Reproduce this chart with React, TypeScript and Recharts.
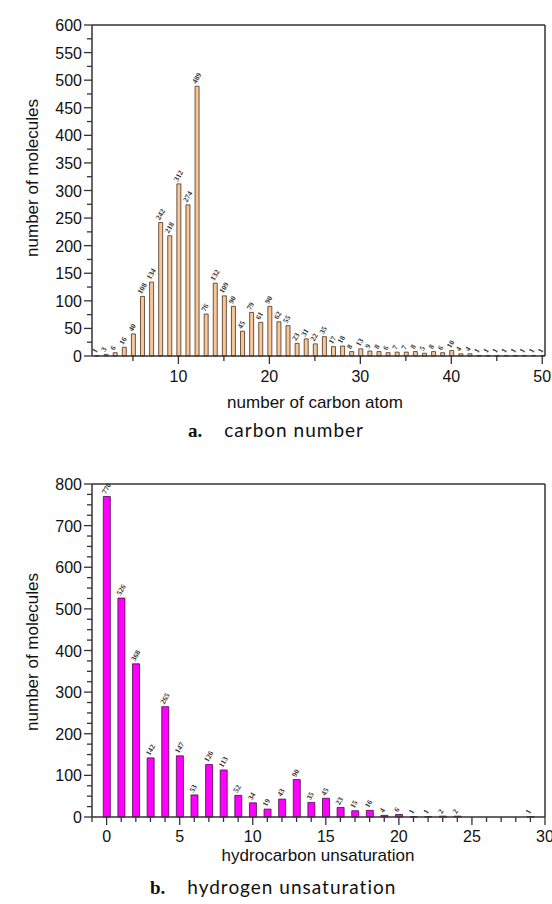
import { BarChart, Bar, XAxis, YAxis, LabelList, ReferenceLine } from "recharts";

// carbon number distribution (panel a)
const carbonAtoms = [
  1, 2, 3, 4, 5, 6, 7, 8, 9, 10, 11, 12, 13, 14, 15, 16, 17, 18, 19, 20, 21, 22, 23, 24, 25,
  26, 27, 28, 29, 30, 31, 32, 33, 34, 35, 36, 37, 38, 39, 40, 41, 42, 43, 44, 45, 46, 47, 48, 49, 50,
];
const carbonCounts = [
  1, 3, 6, 16, 40, 108, 134, 242, 218, 312, 274, 489, 76, 132, 109, 90, 45, 79, 61, 90, 62, 55, 23, 31, 22,
  35, 17, 18, 8, 13, 9, 8, 6, 7, 7, 8, 5, 8, 6, 10, 4, 4, 1, 1, 1, 1, 1, 1, 1, 1,
];
const carbonYTicks = [0, 25, 50, 75, 100, 125, 150, 175, 200, 225, 250, 275, 300, 325, 350, 375, 400, 425, 450, 475, 500, 525, 550, 575, 600];
const carbonXTicks = [5, 10, 15, 20, 25, 30, 35, 40, 45, 50];

// hydrogen unsaturation distribution (panel b)
const unsaturation = [0, 1, 2, 3, 4, 5, 6, 7, 8, 9, 10, 11, 12, 13, 14, 15, 16, 17, 18, 19, 20, 21, 22, 23, 24, 29];
const unsatCounts = [770, 526, 368, 142, 265, 147, 53, 126, 113, 52, 34, 19, 43, 90, 35, 45, 23, 15, 16, 4, 6, 1, 1, 2, 2, 1];
const unsatYTicks = [
  0, 25, 50, 75, 100, 125, 150, 175, 200, 225, 250, 275, 300, 325, 350, 375, 400,
  425, 450, 475, 500, 525, 550, 575, 600, 625, 650, 675, 700, 725, 750, 775, 800,
];
const unsatXTicks = [
  -1, 0, 1, 2, 3, 4, 5, 6, 7, 8, 9, 10, 11, 12, 13, 14, 15, 16, 17, 18, 19, 20, 21, 22, 23, 24, 25,
  26, 27, 28, 29, 30,
];

const carbonData = carbonAtoms.map((c, i) => ({ x: c, n: carbonCounts[i] }));
const unsatData = unsaturation.map((u, i) => ({ x: u, n: unsatCounts[i] }));

const AXIS = "#333";
const tickFont = { fontFamily: "'Liberation Sans', Arial, sans-serif", fontSize: 16, fill: "#111" };

function makeXTick(isMajor: (v: number) => boolean, labelDy: number) {
  return (props: any) => {
    const { x, y, payload } = props;
    const major = isMajor(payload.value);
    return (
      <g>
        <line x1={x} y1={y} x2={x} y2={y + (major ? 8 : 5)} stroke={AXIS} strokeWidth={1.3} />
        {major && (
          <text x={x} y={y + labelDy} textAnchor="middle" {...tickFont}>
            {payload.value}
          </text>
        )}
      </g>
    );
  };
}

function makeYTick(step: number) {
  return (props: any) => {
    const { x, y, payload } = props;
    const major = payload.value % step === 0;
    return (
      <g>
        <line x1={x} y1={y} x2={x - (major ? 8 : 5)} y2={y} stroke={AXIS} strokeWidth={1.3} />
        {major && (
          <text x={x - 10} y={y + 6} textAnchor="end" {...tickFont}>
            {payload.value}
          </text>
        )}
      </g>
    );
  };
}

// rotated value labels sitting on top of each bar
const valueLabel = (props: any) => {
  const { x, y, width, value } = props;
  const cx = Number(x) + Number(width) / 2 - 1;
  return (
    <text
      transform={`translate(${cx},${Number(y) - 2}) rotate(-60)`}
      fontFamily="'Liberation Serif', 'DejaVu Serif', serif"
      fontWeight="bold"
      fontSize={7.5}
      fill="#333"
    >
      {value}
    </text>
  );
};

const absText = (style: React.CSSProperties): React.CSSProperties => ({
  position: "absolute",
  whiteSpace: "nowrap",
  lineHeight: 1,
  ...style,
});

export default function App() {
  return (
    <div style={{ position: "absolute", left: 0, top: 0, width: 552, height: 904, background: "#fff" }}>
      {/* panel a */}
      <div style={{ position: "absolute", left: 0, top: 0 }}>
        <BarChart width={552} height={390} data={carbonData} margin={{ top: 25, right: 7, left: 32, bottom: 4 }}>
          <XAxis
            dataKey="x"
            type="number"
            domain={[0.5, 50.3]}
            ticks={carbonXTicks}
            interval={0}
            height={30}
            tickSize={0}
            tickMargin={0}
            axisLine={{ stroke: AXIS, strokeWidth: 1.5 }}
            tickLine={false}
            tick={makeXTick((v) => v % 10 === 0, 26)}
            allowDataOverflow
          />
          <YAxis
            type="number"
            domain={[0, 600]}
            ticks={carbonYTicks}
            interval={0}
            width={60}
            tickSize={0}
            tickMargin={0}
            axisLine={{ stroke: AXIS, strokeWidth: 1.5 }}
            tickLine={false}
            tick={makeYTick(50)}
          />
          <ReferenceLine y={600} stroke={AXIS} strokeWidth={1.5} />
          <ReferenceLine x={50.3} stroke={AXIS} strokeWidth={1.5} />
          <Bar dataKey="n" fill="#f7c79a" stroke="#4a3020" strokeWidth={0.8} barSize={4} isAnimationActive={false}>
            <LabelList dataKey="n" content={valueLabel} />
          </Bar>
        </BarChart>
      </div>
      <div
        style={absText({
          left: 32,
          top: 178,
          transform: "translate(-50%, -50%) rotate(-90deg)",
          fontFamily: "'Liberation Sans', Arial, sans-serif",
          fontSize: 17,
          color: "#111",
        })}
      >
        number of molecules
      </div>
      <div
        style={absText({
          left: 315,
          top: 402,
          transform: "translate(-50%, -50%)",
          fontFamily: "'Liberation Sans', Arial, sans-serif",
          fontSize: 17,
          color: "#111",
        })}
      >
        number of carbon atom
      </div>
      <div style={absText({ left: 188, top: 420, fontSize: 19, color: "#111" })}>
        <span style={{ fontFamily: "'Liberation Serif', serif", fontWeight: "bold" }}>a.</span>
        <span style={{ fontFamily: "Lato, 'Open Sans', sans-serif", marginLeft: 22, letterSpacing: 1 }}>carbon number</span>
      </div>

      {/* panel b */}
      <div style={{ position: "absolute", left: 0, top: 440 }}>
        <BarChart width={552} height={420} data={unsatData} margin={{ top: 44, right: 7, left: 32, bottom: 13 }}>
          <XAxis
            dataKey="x"
            type="number"
            domain={[-1, 30]}
            ticks={unsatXTicks}
            interval={0}
            height={30}
            tickSize={0}
            tickMargin={0}
            axisLine={{ stroke: AXIS, strokeWidth: 1.5 }}
            tickLine={false}
            tick={makeXTick((v) => v % 5 === 0, 25)}
            allowDataOverflow
          />
          <YAxis
            type="number"
            domain={[0, 800]}
            ticks={unsatYTicks}
            interval={0}
            width={60}
            tickSize={0}
            tickMargin={0}
            axisLine={{ stroke: AXIS, strokeWidth: 1.5 }}
            tickLine={false}
            tick={makeYTick(100)}
          />
          <ReferenceLine y={800} stroke={AXIS} strokeWidth={1.5} />
          <ReferenceLine x={30} stroke={AXIS} strokeWidth={1.5} />
          <Bar dataKey="n" fill="#ff00ff" stroke="#4a0a4a" strokeWidth={0.8} barSize={7} isAnimationActive={false}>
            <LabelList dataKey="n" content={valueLabel} />
          </Bar>
        </BarChart>
      </div>
      <div
        style={absText({
          left: 32,
          top: 652,
          transform: "translate(-50%, -50%) rotate(-90deg)",
          fontFamily: "'Liberation Sans', Arial, sans-serif",
          fontSize: 17,
          color: "#111",
        })}
      >
        number of molecules
      </div>
      <div
        style={absText({
          left: 318,
          top: 855,
          transform: "translate(-50%, -50%)",
          fontFamily: "'Liberation Sans', Arial, sans-serif",
          fontSize: 17,
          color: "#111",
        })}
      >
        hydrocarbon unsaturation
      </div>
      <div style={absText({ left: 150, top: 877, fontSize: 19, color: "#111" })}>
        <span style={{ fontFamily: "'Liberation Serif', serif", fontWeight: "bold" }}>b.</span>
        <span style={{ fontFamily: "Lato, 'Open Sans', sans-serif", marginLeft: 22, letterSpacing: 1 }}>hydrogen unsaturation</span>
      </div>
    </div>
  );
}
